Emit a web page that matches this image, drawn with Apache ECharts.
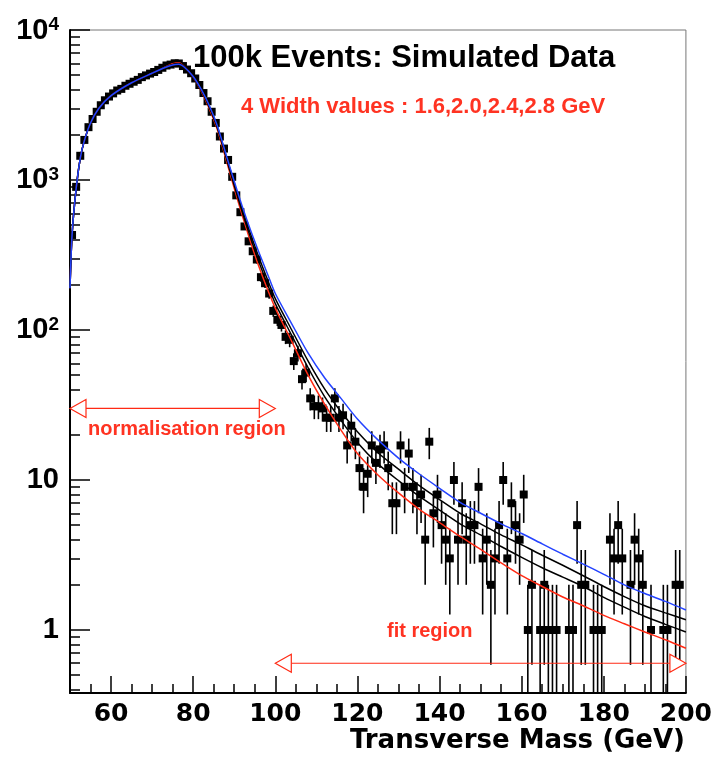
<!DOCTYPE html>
<html><head><meta charset="utf-8">
<script src="https://cdn.jsdelivr.net/npm/echarts@6/dist/echarts.min.js"></script>
<style>html,body{margin:0;padding:0;background:#fff}#c{width:715px;height:762px}</style>
</head><body><div id="c"></div>
<script>
// ---------- data ----------
const binCenters = [
 50.5,51.5,52.5,53.5,54.5,55.5,56.5,57.5,58.5,59.5,60.5,61.5,62.5,63.5,64.5,65.5,66.5,67.5,68.5,69.5,
 70.5,71.5,72.5,73.5,74.5,75.5,76.5,77.5,78.5,79.5,80.5,81.5,82.5,83.5,84.5,85.5,86.5,87.5,88.5,89.5,
 90.5,91.5,92.5,93.5,94.5,95.5,96.5,97.5,98.5,99.5,100.5,101.5,102.5,103.5,104.5,105.5,106.5,107.5,108.5,109.5,
 110.5,111.5,112.5,113.5,114.5,115.5,116.5,117.5,118.5,119.5,120.5,121.5,122.5,123.5,124.5,125.5,126.5,127.5,128.5,129.5,
 130.5,131.5,132.5,133.5,134.5,135.5,136.5,137.5,138.5,139.5,140.5,141.5,142.5,143.5,144.5,145.5,146.5,147.5,148.5,149.5,
 150.5,151.5,152.5,153.5,154.5,155.5,156.5,157.5,158.5,159.5,160.5,161.5,162.5,163.5,164.5,165.5,166.5,167.5,168.5,169.5,
 170.5,171.5,172.5,173.5,174.5,175.5,176.5,177.5,178.5,179.5,180.5,181.5,182.5,183.5,184.5,185.5,186.5,187.5,188.5,189.5,
 190.5,191.5,192.5,193.5,194.5,195.5,196.5,197.5,198.5,199.5
];
const counts = [
 430,900,1450,1850,2250,2550,2850,3150,3400,3600,3780,3950,4050,4250,4380,4520,4650,4850,4980,5120,
 5250,5420,5600,5800,5880,6000,5980,5750,5450,5150,4750,4300,3800,3350,2850,2400,1950,1620,1360,1050,
 790,610,490,390,335,295,225,205,175,134,117,108,90,86,62,70,47,52,35,31,
 31,30,26,26,35,26,27,17,23,18,12,9,11,17,13,16,17,12,7,7,
 17,9,15,9,7,8,4,18,6,8,5,4,3,10,4,7,4,5,5,9,
 3,4,2,3,5,10,3,7,5,4,8,1,2,0,1,2,1,1,1,0,
 0,1,1,5,2,2,0,1,1,1,0,4,3,5,3,0,2,4,3,2,
 0,1,0,0,1,1,0,2,2,0
];
const curveX = [50,50.5,51.5,52.5,53.5,55,57,60,65,70,73,75,76.5,78,80,82,84,86,88,90,92,94,96,98,100,104,108,112,116,120,125,130,135,140,145,150,155,160,165,170,175,180,185,190,195,200];
const fitW16 = [190,430,880,1400,1830,2400,3000,3650,4450,5150,5620,5950,6050,5650,4850,3900,2950,2120,1370,880,575,385,265,190,140,84,50,32,21.5,15,10.8,8.2,6.4,5.2,4.2,3.45,2.8,2.3,1.95,1.66,1.45,1.25,1.1,0.97,0.86,0.755];
const fitW20 = [190,430,880,1400,1830,2400,3000,3650,4450,5150,5610,5900,5980,5620,4870,3950,3020,2180,1420,920,605,410,285,205,150,92,56,36,25,17.8,12.8,9.9,7.8,6.3,5.1,4.3,3.6,3.05,2.6,2.25,1.95,1.65,1.42,1.23,1.09,0.97];
const fitW24 = [190,430,880,1400,1830,2400,3000,3650,4450,5150,5600,5870,5930,5610,4890,3980,3060,2220,1450,950,630,435,305,220,162,100,62,40.5,28.5,21,15.2,11.8,9.2,7.4,6.0,5.1,4.3,3.7,3.15,2.7,2.3,1.95,1.67,1.45,1.3,1.17];
const fitW28 = [190,430,880,1400,1830,2400,3000,3650,4450,5150,5600,5850,5900,5600,4900,4000,3100,2250,1480,980,660,460,330,240,175,110,70,48,35,25.5,18.5,14,11,8.8,7.1,6.0,5.1,4.4,3.75,3.2,2.75,2.35,2.0,1.75,1.55,1.36];
const xMajorTicks = [60,80,100,120,140,160,180,200];
const xMinorTicks = [55,65,70,75,85,90,95,105,110,115,125,130,135,145,150,155,165,170,175,185,190,195];
const yMajorTicks = [1,10,100,1000,10000];
const yTickLabels = ['1','10','10|2','10|3','10|4'];
const yMinorTicks = [0.4,0.5,0.6,0.7,0.8,0.9,2,3,4,5,6,7,8,9,20,30,40,50,60,70,80,90,200,300,400,500,600,700,800,900,2000,3000,4000,5000,6000,7000,8000,9000];
const arrowFrom = [50,100];
const arrowTo = [100,200];
const arrowLevel = [30,0.6];
const Y_MIN = 0.38, Y_MAX = 10000, X_MIN = 50, X_MAX = 200;

// ---------- chart ----------
const FONT = '"Liberation Sans", Arial, sans-serif';
const WFONT = '"DejaVu Sans", sans-serif';
const RED = '#ff2a14', BLUE = '#2443ff', TXTRED = '#ff3322';
const chart = echarts.init(document.getElementById('c'), null, {renderer:'canvas'});

const histData = [];
binCenters.forEach((x,i)=>{ if(counts[i]>0) histData.push([x,counts[i]]); });
const arrowData = arrowFrom.map((f,i)=>[f, arrowTo[i], arrowLevel[i]]);

function fitSeries(name, vals, color){
  return {name, type:'line', xAxisIndex:0, yAxisIndex:0, data: curveX.map((x,i)=>[x,vals[i]]),
    smooth:0.25, showSymbol:false, symbol:'none', lineStyle:{color, width:1.5}, z:5, silent:true};
}

const option = {
  animation:false,
  backgroundColor:'#fff',
  grid:{left:70, right:29, top:30, bottom:69, show:true, borderColor:'#777', borderWidth:1, backgroundColor:'transparent'},
  xAxis:[{
    type:'value', min:X_MIN, max:X_MAX, position:'bottom',
    axisLine:{show:true, onZero:false, lineStyle:{color:'#000', width:2}},
    axisTick:{show:true, inside:true, length:17, customValues:xMajorTicks, lineStyle:{color:'#000', width:1.5}},
    axisLabel:{customValues:xMajorTicks, color:'#000', fontSize:25, fontWeight:'bold', fontFamily:WFONT, margin:9},
    splitLine:{show:false}
  },{
    type:'value', min:X_MIN, max:X_MAX, position:'bottom',
    axisLine:{show:false, onZero:false},
    axisTick:{show:true, inside:true, length:9, customValues:xMinorTicks, lineStyle:{color:'#000', width:1.5}},
    axisLabel:{show:false}, splitLine:{show:false}
  }],
  yAxis:[{
    type:'log', logBase:10, min:Y_MIN, max:Y_MAX, position:'left',
    axisLine:{show:true, onZero:false, lineStyle:{color:'#000', width:2}},
    axisTick:{show:true, inside:true, length:20, customValues:yMajorTicks, lineStyle:{color:'#000', width:1.5}},
    axisLabel:{customValues:yMajorTicks, margin:11, color:'#000',
      formatter:function(v){
        const idx = yMajorTicks.indexOf(Math.round(v));
        const lab = idx>=0 ? yTickLabels[idx] : String(v);
        const p = lab.split('|');
        return p.length>1 ? '{b|'+p[0]+'}{s|'+p[1]+'}' : '{b|'+p[0]+'}';
      },
      rich:{
        b:{fontSize:29, fontWeight:'bold', fontFamily:FONT, color:'#000', lineHeight:30, verticalAlign:'bottom'},
        s:{fontSize:19, fontWeight:'bold', fontFamily:FONT, color:'#000', lineHeight:14, verticalAlign:'top'}
      }},
    splitLine:{show:false}
  },{
    type:'log', logBase:10, min:Y_MIN, max:Y_MAX, position:'left',
    axisLine:{show:false, onZero:false},
    axisTick:{show:true, inside:true, length:10, customValues:yMinorTicks, lineStyle:{color:'#000', width:1.5}},
    axisLabel:{show:false}, splitLine:{show:false}
  }],
  graphic:[
    {type:'text', x:193, y:58, style:{text:'100k Events: Simulated Data', font:'bold 31px '+FONT, fill:'#000', verticalAlign:'middle', align:'left'}},
    {type:'text', x:241, y:107, style:{text:'4 Width values : 1.6,2.0,2.4,2.8 GeV', font:'bold 22px '+FONT, fill:TXTRED, verticalAlign:'middle', align:'left'}},
    {type:'text', x:88, y:429, style:{text:'normalisation region', font:'bold 20px '+FONT, fill:TXTRED, verticalAlign:'middle', align:'left'}},
    {type:'text', x:387, y:631, style:{text:'fit region', font:'bold 20px '+FONT, fill:TXTRED, verticalAlign:'middle', align:'left'}},
    {type:'text', x:685, y:741, style:{text:'Transverse Mass (GeV)', font:'bold 26px '+WFONT, fill:'#000', verticalAlign:'middle', align:'right'}}
  ],
  series:[
    {type:'custom', name:'data', xAxisIndex:0, yAxisIndex:0, data:histData, z:3, silent:true, clip:true,
      renderItem:function(params, api){
        const x = api.value(0), v = api.value(1);
        const e = Math.sqrt(v);
        const lo = Math.max(v-e, Y_MIN), hi = v+e;
        const p = api.coord([x,v]), pl = api.coord([x,lo]), ph = api.coord([x,hi]);
        return {type:'group', children:[
          {type:'line', shape:{x1:p[0], y1:pl[1], x2:p[0], y2:ph[1]}, style:{stroke:'#000', lineWidth:1.6}},
          {type:'rect', shape:{x:p[0]-4, y:p[1]-4, width:8, height:8}, style:{fill:'#000'}}
        ]};
      }},
    fitSeries('1.6 GeV', fitW16, RED),
    fitSeries('2.0 GeV', fitW20, '#000'),
    fitSeries('2.4 GeV', fitW24, '#000'),
    fitSeries('2.8 GeV', fitW28, BLUE),
    {type:'custom', name:'arrows', xAxisIndex:0, yAxisIndex:0, data:arrowData, z:6, silent:true, clip:false,
      renderItem:function(params, api){
        const a = api.coord([api.value(0), api.value(2)]);
        const b = api.coord([api.value(1), api.value(2)]);
        const L = 16, H = 9, y = a[1];
        return {type:'group', children:[
          {type:'line', shape:{x1:a[0]+L, y1:y, x2:b[0]-L, y2:y}, style:{stroke:RED, lineWidth:1.2}},
          {type:'polygon', shape:{points:[[a[0],y],[a[0]+L,y-H],[a[0]+L,y+H]]}, style:{fill:'#fff', stroke:RED, lineWidth:1.2}},
          {type:'polygon', shape:{points:[[b[0],y],[b[0]-L,y-H],[b[0]-L,y+H]]}, style:{fill:'#fff', stroke:RED, lineWidth:1.2}}
        ]};
      }}
  ]
};
chart.setOption(option);
</script>
</body></html>
